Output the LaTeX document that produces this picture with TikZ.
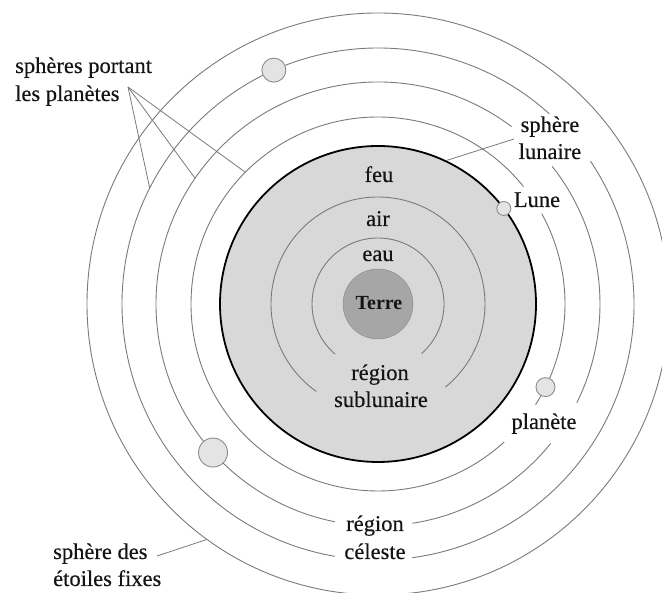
\documentclass[tikz,border=0pt]{standalone}
\usepackage{fontspec}
\setmainfont{Liberation Serif}
\newfontfamily\lblfont{Liberation Serif}[FakeBold=0.35]
\definecolor{diskfill}{HTML}{D8D8D8}
\definecolor{terrefill}{HTML}{A6A6A6}
\definecolor{ringgray}{HTML}{7A7A7A}
\definecolor{pfill}{HTML}{E4E4E4}
\definecolor{pgray}{HTML}{8C8C8C}
\definecolor{txt}{HTML}{141414}
\begin{document}
\begin{tikzpicture}[x=1pt,y=1pt,
  ring/.style={draw=ringgray, line width=0.9pt},
  lead/.style={draw=ringgray, line width=0.8pt},
  lbl/.style={inner sep=0pt, anchor=base, font=\lblfont\fontsize{22.5}{27}\selectfont, text=txt},
  lblw/.style={lbl, anchor=base west},
  planet/.style={circle, draw=pgray, fill=pfill, line width=0.9pt, inner sep=0pt, minimum size=#1},
]
\useasboundingbox (0,0) rectangle (662,593);
\clip (0,0) rectangle (662,593);
\coordinate (C) at (378,289);
% sublunar region
\fill[diskfill] (C) circle[radius=158];
\draw[ring] ([shift={(-48.7:66)}]C) arc[start angle=-48.7, end angle=229.4, radius=66];
\draw[ring] ([shift={(-51:107)}]C) arc[start angle=-51, end angle=234.8, radius=107];
\node[circle, fill=terrefill, draw=terrefill!85!black, line width=0.5pt, minimum size=70pt, inner sep=0pt] (terre) at (C) {};
\draw[black, line width=1.8pt] (C) circle[radius=158];
% celestial spheres
\draw[ring] ([shift={(38.9:187)}]C) arc[start angle=38.9, end angle=312.4, radius=187];
\draw[ring] ([shift={(-32.6:187)}]C) arc[start angle=-32.6, end angle=28.9, radius=187];
\draw[ring] ([shift={(53.0:222)}]C) arc[start angle=53.0, end angle=258.8, radius=222];
\draw[ring] ([shift={(-81.1:222)}]C) arc[start angle=-81.1, end angle=-38.9, radius=222];
\draw[ring] ([shift={(-26.4:222)}]C) arc[start angle=-26.4, end angle=38.3, radius=222];
\draw[ring] ([shift={(48.0:256)}]C) arc[start angle=48.0, end angle=260.3, radius=256];
\draw[ring] ([shift={(-82.3:256)}]C) arc[start angle=-82.3, end angle=33.9, radius=256];
\draw[ring] (C) circle[radius=291];
% planets
\node[planet=24pt] (p1) at ([shift={(114:256)}]C) {};
\node[planet=29pt] (p2) at ([shift={(222:222)}]C) {};
\node[planet=19pt] (p3) at ([shift={(-26.4:187)}]C) {};
\node[planet=14pt] (lune) at ([shift={(37.2:158)}]C) {};
% texts
\node[lbl] (feu) at (379,411) {feu};
\node[lbl] (air) at (378,367) {air};
\node[lbl] (eau) at (378,332) {eau};
\node[lbl, font=\fontsize{20}{24}\selectfont\bfseries] (terret) at (379,283) {Terre};
\node[lbl] (reg1) at (380,213) {région};
\node[lbl] (reg2) at (381,186) {sublunaire};
\node[lbl] (sl1) at (550,461) {sphère};
\node[lbl] (sl2) at (550,434) {lunaire};
\node[lbl] (lunet) at (537,386) {Lune};
\node[lbl] (planete) at (544,164) {planète};
\node[lbl] (rc1) at (375,62) {région};
\node[lbl] (rc2) at (375,34) {céleste};
\node[lblw] (sp1t) at (15,520) {sphères portant};
\node[lblw] (sp2t) at (15,492) {les planètes};
\node[lblw] (ef1) at (53,34) {sphère des};
\node[lblw] (ef2) at (53,7) {étoiles fixes};
% leader lines
\coordinate (apex) at (128,506);
\coordinate (ra) at ([shift={(153.1:256)}]C);
\coordinate (rb) at ([shift={(145.5:222)}]C);
\coordinate (rc) at ([shift={(135.2:187)}]C);
\draw[lead] (apex) -- (ra);
\draw[lead] (apex) -- (rb);
\draw[lead] (apex) -- (rc);
\coordinate (lunstart) at (514,454);
\coordinate (lunend) at ([shift={(64.5:159)}]C);
\draw[lead] (lunstart) -- (lunend);
\coordinate (efstart) at (157,37);
\coordinate (efend) at ([shift={(234:291)}]C);
\draw[lead] (efstart) -- (efend);
\end{tikzpicture}
\end{document}
